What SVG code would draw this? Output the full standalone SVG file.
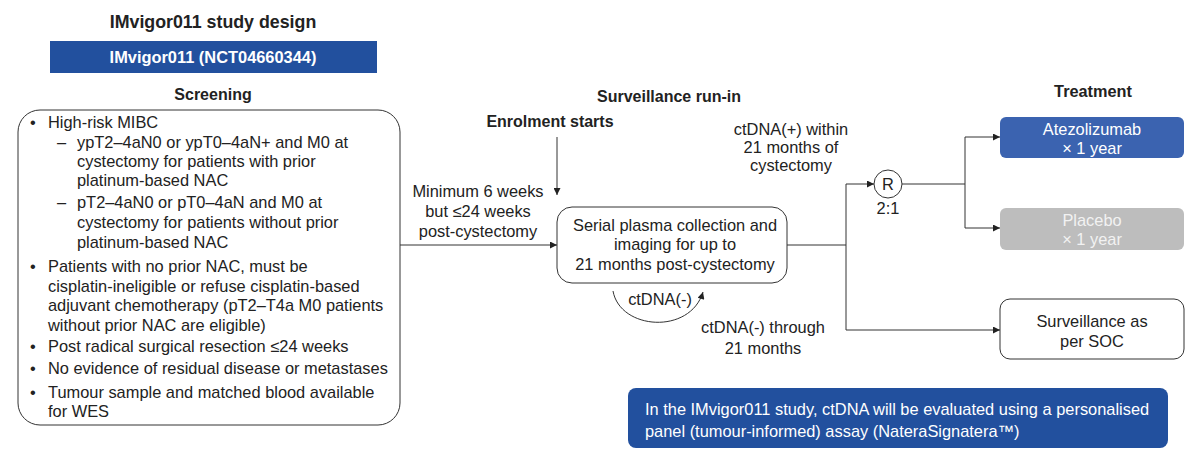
<svg xmlns="http://www.w3.org/2000/svg" width="1200" height="463" viewBox="0 0 1200 463">
<defs>
<marker id="arr" viewBox="0 0 10 10" refX="10" refY="5" markerWidth="9" markerHeight="7" markerUnits="userSpaceOnUse" orient="auto"><path d="M0,0 L10,5 L0,10 z" fill="#222"/></marker>
<style>
text{font-family:"Liberation Sans",Arial,sans-serif;font-size:16.4px;fill:#222}
.b{font-weight:bold;font-size:16px}
.c{text-anchor:middle}
.w{fill:#fff}
.ln{fill:none;stroke:#333;stroke-width:1}
.box{fill:#fff;stroke:#333;stroke-width:1}
</style>
</defs>
<rect width="1200" height="463" fill="#fff"/>
<g id="header">
<text class="b c" x="213" y="28" style="font-size:17.8px">IMvigor011 study design</text>
<rect x="50" y="41" width="327" height="32" fill="#22509e"/>
<text class="b c w" x="213" y="63" style="font-size:16.4px">IMvigor011 (NCT04660344)</text>
<text class="b c" x="213" y="100">Screening</text>
<text class="b c" x="669" y="102">Surveillance run-in</text>
<text class="b c" x="1093" y="97" style="font-size:16.3px">Treatment</text>
</g>
<g id="screening">
<rect class="box" x="18" y="110" width="382" height="315" rx="22"/>
<g>
<text x="30" y="128">•</text><text x="48" y="128">High-risk MIBC</text>
<text x="57" y="148">–</text><text x="77" y="148">ypT2–4aN0 or ypT0–4aN+ and M0 at</text>
<text x="77" y="167">cystectomy for patients with prior</text>
<text x="77" y="186">platinum-based NAC</text>
<text x="57" y="208">–</text><text x="77" y="208">pT2–4aN0 or pT0–4aN and M0 at</text>
<text x="77" y="228">cystectomy for patients without prior</text>
<text x="77" y="248">platinum-based NAC</text>
<text x="30" y="272">•</text><text x="48" y="272">Patients with no prior NAC, must be</text>
<text x="48" y="292">cisplatin-ineligible or refuse cisplatin-based</text>
<text x="48" y="311">adjuvant chemotherapy (pT2–T4a M0 patients</text>
<text x="48" y="331">without prior NAC are eligible)</text>
<text x="30" y="352">•</text><text x="48" y="352">Post radical surgical resection ≤24 weeks</text>
<text x="30" y="374">•</text><text x="48" y="374">No evidence of residual disease or metastases</text>
<text x="30" y="398">•</text><text x="48" y="398">Tumour sample and matched blood available</text>
<text x="48" y="417">for WES</text>
</g>
</g>
<g id="enrolment">
<text class="b c" x="550" y="127">Enrolment starts</text>
</g>
<g id="plasma">
<rect class="box" x="557" y="207" width="230" height="76" rx="15"/>
<text class="c" x="675" y="231">Serial plasma collection and</text>
<text class="c" x="675" y="250">imaging for up to</text>
<text class="c" x="675" y="270">21 months post-cystectomy</text>
</g>
<g id="randomise">
<circle cx="888" cy="184" r="14" fill="#fff" stroke="#333"/>
<text class="c" x="888" y="190">R</text>
<text class="c" x="888" y="214">2:1</text>
</g>
<g id="atezolizumab">
<rect x="1000" y="117" width="184" height="41" rx="6" fill="#3b63b0"/>
<text class="c w" x="1092" y="135">Atezolizumab</text>
<text class="c w" x="1092" y="154">× 1 year</text>
</g>
<g id="placebo">
<rect x="1000" y="208" width="184" height="42" rx="6" fill="#bdbdbd"/>
<text class="c" x="1092" y="226" style="fill:#f2f2f2">Placebo</text>
<text class="c" x="1092" y="245" style="fill:#f2f2f2">× 1 year</text>
</g>
<g id="surveillance">
<rect class="box" x="1000" y="299" width="184" height="60" rx="10"/>
<text class="c" x="1092" y="327">Surveillance as</text>
<text class="c" x="1092" y="347">per SOC</text>
</g>
<g id="note">
<rect x="628" y="388" width="540" height="60" rx="8" fill="#22509e"/>
<text class="w" x="645" y="415">In the IMvigor011 study, ctDNA will be evaluated using a personalised</text>
<text class="w" x="645" y="437">panel (tumour-informed) assay (NateraSignatera™)</text>
</g>
<g id="connectors">
<line class="ln" x1="557" y1="137" x2="557" y2="195" marker-end="url(#arr)"/>
<line class="ln" x1="400" y1="245" x2="557" y2="245" marker-end="url(#arr)"/>
<line class="ln" x1="787" y1="245" x2="846" y2="245"/>
<line class="ln" x1="846" y1="184" x2="846" y2="330"/>
<line class="ln" x1="846" y1="184" x2="874" y2="184" marker-end="url(#arr)"/>
<line class="ln" x1="902" y1="184" x2="965" y2="184"/>
<line class="ln" x1="965" y1="137" x2="965" y2="228"/>
<line class="ln" x1="965" y1="137" x2="1000" y2="137" marker-end="url(#arr)"/>
<line class="ln" x1="965" y1="228" x2="1000" y2="228" marker-end="url(#arr)"/>
<line class="ln" x1="846" y1="330" x2="1000" y2="330" marker-end="url(#arr)"/>
<path class="ln" d="M613,291 C620,330 690,335 703,292" marker-end="url(#arr)"/>
</g>
<g id="labels">
<text class="c" x="478" y="197">Minimum 6 weeks</text>
<text class="c" x="478" y="217">but ≤24 weeks</text>
<text class="c" x="478" y="237">post-cystectomy</text>
<text class="c" x="791" y="135">ctDNA(+) within</text>
<text class="c" x="791" y="153">21 months of</text>
<text class="c" x="791" y="171">cystectomy</text>
<text class="c" x="660" y="305">ctDNA(-)</text>
<text class="c" x="763" y="333">ctDNA(-) through</text>
<text class="c" x="763" y="354">21 months</text>
</g>
</svg>
